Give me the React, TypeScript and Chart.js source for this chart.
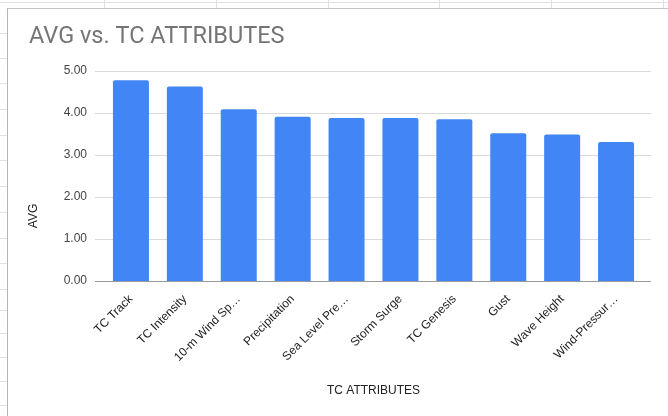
import React, { useEffect, useRef } from "react";
import { Chart, registerables } from "chart.js";

Chart.register(...registerables);

const chartTitle = "AVG vs. TC ATTRIBUTES";
const xAxisTitle = "TC ATTRIBUTES";
const yAxisTitle = "AVG";
const categories = [
  "TC Track",
  "TC Intensity",
  "10-m Wind Sp…",
  "Precipitation",
  "Sea Level Pre…",
  "Storm Surge",
  "TC Genesis",
  "Gust",
  "Wave Height",
  "Wind-Pressur…",
];
const avgValues = [4.78, 4.63, 4.09, 3.91, 3.88, 3.88, 3.85, 3.52, 3.49, 3.31];
const yMin = 0;
const yMax = 5;
const yStep = 1;

const sheetColumnLines = [104, 216, 328, 439, 551, 663];
const sheetRowLines = [33, 58, 83, 109, 135, 160, 186, 212, 238, 263, 289, 310, 333, 357, 381, 405];

export default function App() {
  const canvasRef = useRef<HTMLCanvasElement>(null);

  useEffect(() => {
    if (!canvasRef.current) return;

    const gridPlugin = {
      id: "extendedGrid",
      beforeDatasetsDraw(chart: any) {
        const { ctx, chartArea, scales } = chart;
        const y = scales.y;
        ctx.save();
        ctx.lineWidth = 1;
        y.ticks.forEach((t: any) => {
          if (t.value === 0) return;
          const py = Math.round(y.getPixelForValue(t.value)) + 0.5;
          ctx.strokeStyle = "#dadada";
          ctx.beginPath();
          ctx.moveTo(chartArea.left - 9, py);
          ctx.lineTo(chartArea.right + 8, py);
          ctx.stroke();
        });
        ctx.restore();
      },
      afterDatasetsDraw(chart: any) {
        const { ctx, chartArea, scales } = chart;
        const y = scales.y;
        ctx.save();
        const py = Math.round(y.getPixelForValue(0)) + 0.5;
        ctx.strokeStyle = "#9a9a9a";
        ctx.lineWidth = 1;
        ctx.beginPath();
        ctx.moveTo(chartArea.left - 9, py);
        ctx.lineTo(chartArea.right + 8, py);
        ctx.stroke();
        ctx.restore();
      },
      afterDraw(chart: any) {
        const { ctx } = chart;
        ctx.save();
        ctx.font = '12px "Liberation Sans", Arial, sans-serif';
        ctx.fillStyle = "#222";
        ctx.textAlign = "center";
        ctx.textBaseline = "middle";
        ctx.translate(26, 207);
        ctx.rotate(-Math.PI / 2);
        ctx.fillText(yAxisTitle, 0, 0);
        ctx.restore();
      },
    };

    const chart = new Chart(canvasRef.current, {
      type: "bar",
      data: {
        labels: categories,
        datasets: [
          {
            label: yAxisTitle,
            data: avgValues,
            backgroundColor: "#4285F4",
            borderRadius: 2,
            barPercentage: 0.668,
            categoryPercentage: 1,
          },
        ],
      },
      options: {
        responsive: false,
        animation: false,
        layout: { padding: { left: 21, right: 25, top: 13, bottom: 0 } },
        plugins: {
          legend: { display: false },
          tooltip: { enabled: false },
          title: {
            display: true,
            text: chartTitle,
            align: "start",
            color: "#757575",
            font: { family: "Roboto", size: 23.5, weight: "normal" },
            padding: { top: 1, bottom: 19.8 },
          },
        },
        scales: {
          x: {
            grid: { display: false, drawTicks: false },
            border: { display: false },
            ticks: {
              autoSkip: false,
              maxRotation: 45,
              minRotation: 45,
              padding: 11,
              color: "#222",
              font: { family: '"Liberation Sans", Arial', size: 12 },
            },
            title: {
              display: true,
              text: xAxisTitle,
              color: "#222",
              font: { family: '"Liberation Sans", Arial', size: 12 },
              padding: { top: 0, bottom: 18 },
            },
            afterFit: (s: any) => {
              s.height = 135;
            },
          },
          y: {
            min: yMin,
            max: yMax,
            grid: { display: false, drawTicks: false },
            border: { display: false },
            ticks: {
              stepSize: yStep,
              padding: 17,
              color: "#444",
              font: { family: '"Liberation Sans", Arial', size: 12 },
              callback: (v: any) => Number(v).toFixed(2),
            },
            afterFit: (s: any) => {
              s.width = 75;
            },
          },
        },
      },
      plugins: [gridPlugin],
    });

    return () => chart.destroy();
  }, []);

  return (
    <div
      style={{
        position: "fixed",
        left: 0,
        top: 0,
        width: 668,
        height: 416,
        background: "#fff",
        overflow: "hidden",
      }}
    >
      <div style={{ position: "absolute", left: 0, top: 2, width: 668, height: 1, background: "#e3e3e3" }} />
      {sheetColumnLines.map((x) => (
        <div key={"c" + x} style={{ position: "absolute", left: x, top: 0, width: 1, height: 8, background: "#e0e0e0" }} />
      ))}
      {sheetRowLines.map((y) => (
        <div key={"r" + y} style={{ position: "absolute", left: 0, top: y, width: 7, height: 1, background: "#e3e3e3" }} />
      ))}
      <div
        style={{
          position: "absolute",
          left: 7,
          top: 8,
          width: 700,
          height: 450,
          borderLeft: "1px solid #b4b4b4",
          borderTop: "1px solid #c4c4c4",
          background: "#fff",
        }}
      />
      <canvas
        ref={canvasRef}
        width={660}
        height={407}
        style={{ position: "absolute", left: 8, top: 9, width: 660, height: 407 }}
      />
    </div>
  );
}
